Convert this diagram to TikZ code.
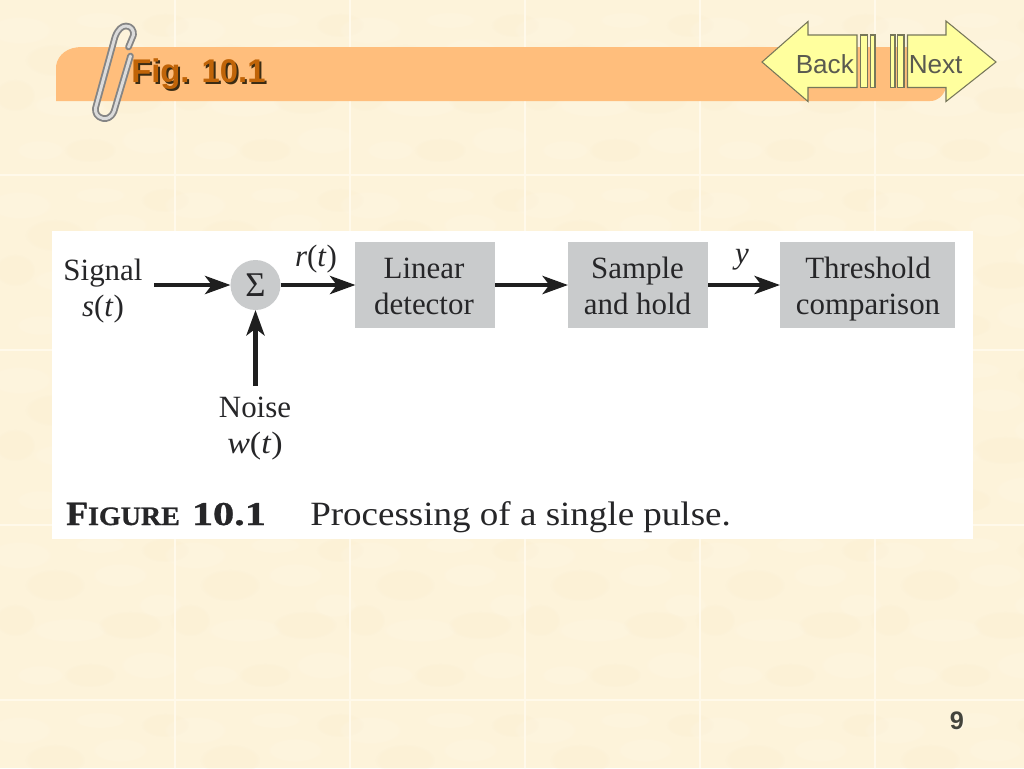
\documentclass[tikz,border=0pt]{standalone}
\usepackage{fontspec}
\usepackage{graphicx}
\setmainfont{Liberation Serif}
\newfontfamily\arialfont{Liberation Sans}
\newfontfamily\capbold[BoldFeatures={FakeBold=0.8}]{Liberation Serif}
\usetikzlibrary{arrows.meta,fadings}
\definecolor{paper}{HTML}{FDF3DA}
\definecolor{paperlight}{HTML}{FFF9EA}
\definecolor{paperdark}{HTML}{FAEBCB}
\definecolor{banner}{HTML}{FFBE7C}
\definecolor{navfill}{HTML}{FFFF9E}
\definecolor{navline}{HTML}{77775A}
\definecolor{navtext}{HTML}{5A5A50}
\definecolor{boxgrey}{HTML}{C9CBCC}
\definecolor{inkdark}{HTML}{262628}
\definecolor{titlefill}{HTML}{C06408}
\definecolor{titleshadow}{HTML}{3B2C14}
\tikzset{
  x=0.75pt,y=-0.75pt,
  blockbox/.style={draw=none,fill=boxgrey,inner sep=0pt,outer sep=0pt,align=center,text=inkdark,
    font=\fontsize{23.2}{27}\selectfont},
  sumnode/.style={circle,fill=boxgrey,draw=none,minimum size=37.5pt,inner sep=0pt,outer sep=0pt,text=inkdark,font=\fontsize{26}{26}\selectfont},
  plainlabel/.style={inner sep=0pt,outer sep=0pt,align=center,text=inkdark,font=\fontsize{23.2}{27}\selectfont},
  flow/.style={draw=black!88,line width=3.4pt,-{Stealth[length=19pt,width=13.5pt,inset=5pt]},shorten <=0pt},
  navshape/.style={fill=navfill,draw=navline,line width=0.8pt,line join=miter},
  navlabel/.style={inner sep=0pt,text=navtext,font=\arialfont\fontsize{19.6}{22}\selectfont},
  wireout/.style={draw=black!48,line width=5pt,line cap=round,line join=round},
  wirein/.style={draw=black!14,line width=2.2pt,line cap=round,line join=round},
  blot/.style={fill=#1,path fading=circle with fuzzy edge 15 percent,opacity=0.22,draw=none},
}
\newcommand{\tileblots}[2]{%
  \begin{scope}[shift={(#1,#2)}]
  \foreach \bx/\by/\bw/\bh in {20/30/32/14,70/105/38/12,120/50/28/12,150/140/30/14,40/150/24/10,100/20/26/8,160/80/22/12}
    \fill[blot=paperlight] (\bx,\by) ellipse [x radius=\bw,y radius=\bh];
  \foreach \bx/\by/\bw/\bh in {55/60/30/16,130/100/32/14,90/150/26/12,15/95/20/16,165/25/24/12}
    \fill[blot=paperdark] (\bx,\by) ellipse [x radius=\bw,y radius=\bh];
  \end{scope}}
\newcommand{\twolines}[2]{\strut#1\\\strut#2}
\begin{document}
\begin{tikzpicture}
\useasboundingbox (0,0) rectangle (1024,768);
% paper texture
\fill[paper] (0,0) rectangle (1024,768);
\foreach \tx in {0,175,350,525,700,875}
  \foreach \ty in {0,175,350,525,700}
    \tileblots{\tx}{\ty};
\foreach \lx in {175,350,525,700,875}
  \draw[paperlight,line width=0.8pt] (\lx,0) -- (\lx,768);
\foreach \ly in {175,350,525,700}
  \draw[paperlight,line width=0.8pt] (0,\ly) -- (1024,\ly);
% banner
\fill[banner] (56,101) -- (56,66) .. controls (58,54) and (68,47) .. (82,47) -- (946,47)
  -- (946,88) .. controls (943,96) and (938,101) .. (930,101) -- cycle;
% paper clip
\draw[wireout] (130.5,56) -- (114,111.5) .. controls (111,118) and (107,119) .. (103,118.5)
  .. controls (97,117) and (95,113) .. (95.5,108) -- (115,37) .. controls (118,29) and (122,26) .. (126,26)
  .. controls (131,26) and (134,30) .. (133.5,35) -- (128.5,47);
\draw[wirein] (130.5,56) -- (114,111.5) .. controls (111,118) and (107,119) .. (103,118.5)
  .. controls (97,117) and (95,113) .. (95.5,108) -- (115,37) .. controls (118,29) and (122,26) .. (126,26)
  .. controls (131,26) and (134,30) .. (133.5,35) -- (128.5,47);
% title
\node[anchor=base west,inner sep=0pt,text=titleshadow,font=\arialfont\bfseries\fontsize{24.6}{28}\selectfont] (titleshade) at (133,84) {Fig. 10.1};
\node[anchor=base west,inner sep=0pt,text=titlefill,font=\arialfont\bfseries\fontsize{24.6}{28}\selectfont] (title) at (131,82.5) {Fig. 10.1};
% navigation
\draw[navshape] (762,62) -- (808,21.5) -- (808,35) -- (857,35) -- (857,87.5) -- (808,87.5) -- (808,101.5) -- cycle;
\draw[navshape] (860.5,35) rectangle (867.5,87.5);
\draw[navshape] (870.5,35) rectangle (875,87.5);
\draw[navshape] (890.5,35) rectangle (895,87.5);
\draw[navshape] (897.5,35) rectangle (904,87.5);
\draw[navshape] (996,62) -- (946,21) -- (946,35) -- (907.5,35) -- (907.5,87.5) -- (946,87.5) -- (946,101.5) -- cycle;
\node[navlabel,anchor=base west] (backlabel) at (795.5,73) {Back};
\node[navlabel,anchor=base west] (nextlabel) at (908.5,73) {Next};
% white panel
\fill[white] (52,231) rectangle (973,539);
% blocks
\node[sumnode] (sum) at (255.5,285) {\raisebox{-1pt}{Σ}};
\node[blockbox,minimum width=104.6pt,minimum height=65pt] (linear) at (425.2,285) {};
\node[blockbox,minimum width=105pt,minimum height=65pt] (sample) at (638,285) {};
\node[blockbox,minimum width=131.25pt,minimum height=65pt] (thresh) at (867.5,285) {};
\node[plainlabel] (lineartext) at (424,289.5) {\twolines{Linear}{detector}};
\node[plainlabel] (sampletext) at (637.5,289.5) {\twolines{Sample}{and hold}};
\node[plainlabel] (threshtext) at (868,289.5) {\twolines{Threshold}{comparison}};
% labels
\node[plainlabel] (signal) at (103,291.5) {\twolines{Signal}{\textit{s}(\textit{t})}};
\node[plainlabel] (noise) at (255,428) {\twolines{Noise}{\scalebox{1.1}[1]{\textit{w}(\textit{t})}}};
\node[plainlabel] (rlabel) at (316,259.5) {\textit{r}(\textit{t})};
\node[plainlabel] (ylabel) at (742,260) {\textit{y}};
% connectors
\coordinate (signalout) at (154,285);
\coordinate (noiseout) at (255.5,386);
\draw[flow] (signalout) -- (sum.west);
\draw[flow] (noiseout) -- (sum.south);
\draw[flow] (sum.east) -- (linear.west);
\draw[flow] (linear.east) -- (sample.west);
\draw[flow] (sample.east) -- (thresh.west);
% caption
\node[anchor=base west,inner sep=0pt,text=inkdark,font=\capbold\bfseries] (figlabel) at (66,525)
  {\scalebox{1.05}[1]{\fontsize{25.5}{28}\selectfont F\fontsize{20}{28}\selectfont IGURE}\hspace{9pt}\scalebox{1.27}[1]{\fontsize{25}{28}\selectfont 10.1}};
\node[anchor=base west,inner sep=0pt,text=inkdark,font=\fontsize{25.5}{28}\selectfont] (caption) at (310,525) {\scalebox{1.089}[1]{Processing of a single pulse.}};
% page number
\node[anchor=base,inner sep=0pt,text=paperlight,font=\arialfont\bfseries\fontsize{19}{22}\selectfont] (pageshade) at (958,730) {9};
\node[anchor=base,inner sep=0pt,text=navtext!75!black,font=\arialfont\bfseries\fontsize{19}{22}\selectfont] (page) at (957,729) {9};
\end{tikzpicture}
\end{document}
